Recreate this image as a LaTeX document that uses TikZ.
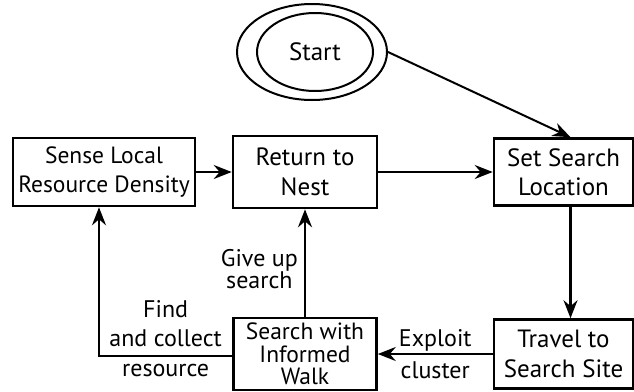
\documentclass[tikz,border=0pt]{standalone}
\usepackage{fontspec}
\setmainfont{PT Sans}
\usepackage{tikz}
\usetikzlibrary{shapes.geometric,arrows.meta,positioning}

\tikzset{
  box/.style={draw, line width=2.6pt, align=center, inner sep=0pt,
    font=\fontsize{25}{29.5}\selectfont},
  smallbox/.style={box, font=\fontsize{23.5}{29}\selectfont},
  ring/.style={draw, ellipse, line width=2pt, inner sep=0pt},
  arr/.style={-{Stealth[length=18pt,width=14pt,inset=6pt]}, line width=2.4pt},
  lab/.style={font=\fontsize{24}{29}\selectfont, align=center, inner sep=2pt}
}

\begin{document}
\begin{tikzpicture}[x=1pt, y=-1pt, node distance=182pt]
\useasboundingbox (0,0) rectangle (634,391);
%nodes
\node (StartOut) [ring, minimum width=150pt, minimum height=96pt] at (312,52) {};
\node (Start) [ring, minimum width=116pt, minimum height=78pt, font=\fontsize{25}{30}\selectfont] at (315,52) {Start};

\node (Sense) [smallbox, minimum width=182pt, minimum height=68pt] at (104,172) {Sense Local\\Resource Density};
\node (Return) [box, right of=Sense, node distance=201pt, minimum width=144pt, minimum height=72pt] {Return to\\Nest};
\node (SetLoc) [box, right of=Return, node distance=258.5pt, minimum width=139pt, minimum height=67pt] {Set Search\\Location};

\node (Travel) [box, below of=SetLoc, minimum width=139pt, minimum height=69pt] {Travel to\\Search Site};
\node (Walk) [smallbox, below of=Return, minimum width=143pt, minimum height=72pt,
  font=\fontsize{23.5}{22.5}\selectfont] {Search with\\Informed\\Walk};

%links
\draw[arr, line width=2pt] (StartOut.east) to ([xshift=7pt]SetLoc.north);
\draw[arr] (Sense) to (Return);
\draw[arr] (Return) to (SetLoc);
\draw[arr] ([xshift=7pt]SetLoc.south) to ([xshift=7pt]Travel.north);
\draw[arr] (Travel) to node[lab, above=0pt] {Exploit} node[lab, below=4pt] {cluster} (Walk);
\draw[arr] (Walk) to node[lab, left=4pt, yshift=-6pt, font=\fontsize{24}{21.5}\selectfont] {Give up\\search} (Return);
\draw[arr] ([yshift=-2pt]Walk.west) -| node[lab, pos=0.25, above=6pt] {Find\\and collect} node[lab, pos=0.25, below=5pt] {resource} ([xshift=-5pt]Sense.south);
\end{tikzpicture}
\end{document}
